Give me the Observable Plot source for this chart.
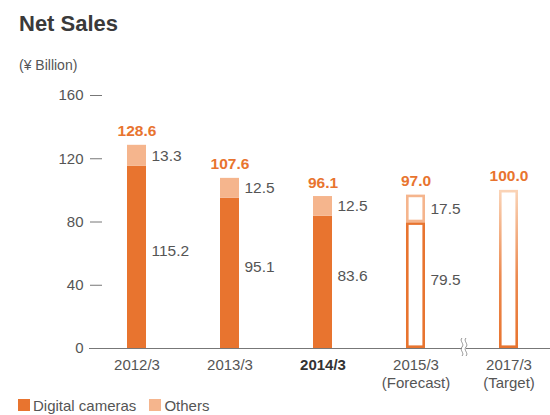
<!DOCTYPE html>
<html><head><meta charset="utf-8">
<script src="https://cdn.jsdelivr.net/npm/d3@7"></script>
<script src="https://cdn.jsdelivr.net/npm/@observablehq/plot@0.6"></script>
<style>
body{margin:0;width:550px;height:415px;overflow:hidden;position:relative;font-family:"Liberation Sans",Arial,sans-serif;background:#fff}
#title{position:absolute;left:19px;top:13px;font-size:22px;line-height:22px;font-weight:bold;color:#3a3a3a;white-space:nowrap}
#unit{position:absolute;left:19px;top:58px;font-size:14px;line-height:14px;color:#555;white-space:nowrap}
#chart{position:absolute;left:0;top:75px}
#legend{position:absolute;left:18px;top:398px;font-size:15px;line-height:15px;color:#555;white-space:nowrap}
#legend span.sw{display:inline-block;width:12px;height:12px;vertical-align:top;margin-top:1px;margin-right:3px}
#legend span.item{margin-right:13px}
</style></head><body>
<div id="title">Net Sales</div>
<div id="unit">(¥ Billion)</div>
<div id="chart"></div>
<div id="legend"></div>
<script>
const categories = ["2012/3", "2013/3", "2014/3", "2015/3", "2017/3"];
const subLabels = ["", "", "", "(Forecast)", "(Target)"];
const kinds = ["actual", "actual", "actual", "forecast", "target"];
const digitalCameras = [115.2, 95.1, 83.6, 79.5, null];
const others = [13.3, 12.5, 12.5, 17.5, null];
const totals = [128.6, 107.6, 96.1, 97.0, 100.0];
const yTicks = [0, 40, 80, 120, 160];
const boldCategory = "2014/3";
const seriesNames = ["Digital cameras", "Others"];

const DARK = "#E8742F";
const LIGHT = "#F5B58D";
const TEXT = "#555555";

const rows = categories.map((c, i) => ({
  cat: c, sub: subLabels[i], kind: kinds[i],
  digital: digitalCameras[i], others: others[i], total: totals[i],
  label: subLabels[i] ? c + "\n" + subLabels[i] : c
}));
const actual = rows.filter(d => d.kind === "actual");
const forecast = rows.filter(d => d.kind === "forecast");
const target = rows.filter(d => d.kind === "target");
const stacked = rows.filter(d => d.digital != null);

function defsMark(index, scales, values, dims) {
  const svg = d3.create("svg:g");
  const g = svg.append("defs").append("linearGradient")
    .attr("id", "tgtGrad").attr("x1", 0).attr("y1", 0).attr("x2", 0).attr("y2", 1);
  g.append("stop").attr("offset", "0%").attr("stop-color", "#FAD3B6");
  g.append("stop").attr("offset", "55%").attr("stop-color", "#EC8A50");
  g.append("stop").attr("offset", "100%").attr("stop-color", DARK);
  return svg.node();
}

function breakMark(index, scales, values, dims) {
  const x = scales.x, y = scales.y;
  const bw = x.bandwidth ? x.bandwidth() : 18.6;
  const gx = (x("2015/3") + bw + x("2017/3")) / 2 + 2;
  const gy = y(0);
  const g = d3.create("svg:g");
  g.append("rect").attr("x", gx - 2).attr("y", gy - 2).attr("width", 4).attr("height", 4).attr("fill", "#fff");
  [-2, 2].forEach(o => {
    g.append("path")
      .attr("d", `M${gx + o},${gy - 10} c-3,3 3,6 0,9 c-3,3 3,6 0,9`)
      .attr("fill", "none").attr("stroke", "#888").attr("stroke-width", 0.9);
  });
  return g.node();
}

const chart = Plot.plot({
  width: 550,
  height: 320,
  marginLeft: 89,
  marginRight: 0,
  marginTop: 20,
  marginBottom: 47,
  style: {fontFamily: '"Liberation Sans", Arial, sans-serif', fontSize: "15px", color: TEXT, background: "#fff"},
  x: {type: "band", domain: categories, range: [90, 555], paddingInner: 0.8, paddingOuter: 0.4, axis: null},
  y: {domain: [0, 160], range: [273, 20], axis: null},
  marks: [
    defsMark,
    Plot.ruleY([0], {stroke: "#777", strokeWidth: 1}),
    Plot.axisY({ticks: yTicks, tickSize: 12, tickPadding: 7, dx: 13, stroke: "#777", fill: TEXT, fontSize: 15, label: null, tickFormat: d => d}),
    Plot.rectY(actual, {x: "cat", y1: 0, y2: "digital", fill: DARK}),
    Plot.rectY(actual, {x: "cat", y1: "digital", y2: d => d.digital + d.others, fill: LIGHT}),
    Plot.rectY(forecast, {x: "cat", y1: 0, y2: "digital", fill: "#fff", stroke: DARK, strokeWidth: 2.6, inset: 1.3}),
    Plot.rectY(forecast, {x: "cat", y1: "digital", y2: "total", fill: "#fff", stroke: LIGHT, strokeWidth: 2.6, inset: 1.3}),
    Plot.rectY(target, {x: "cat", y1: 0, y2: "total", fill: "#fff", stroke: "url(#tgtGrad)", strokeWidth: 2.6, inset: 1.3}),
    Plot.text(rows, {x: "cat", y: "total", text: d => d.total.toFixed(1), dy: -14, fill: DARK, fontWeight: "bold", fontSize: 15.5, lineAnchor: "middle"}),
    Plot.text(stacked, {x: "cat", y: d => d.digital + d.others / 2, text: d => d.others.toFixed(1), dx: 14.5, textAnchor: "start", lineAnchor: "middle", fill: TEXT, fontSize: 15.5}),
    Plot.text(stacked, {x: "cat", y: d => d.digital / 2, text: d => d.digital.toFixed(1), dx: 14.5, dy: -6, textAnchor: "start", lineAnchor: "middle", fill: TEXT, fontSize: 15.5}),
    Plot.text(rows.filter(d => d.cat !== boldCategory), {x: "cat", y: 0, text: "label", dy: 9, lineAnchor: "top", lineHeight: 1.2, fill: TEXT, fontSize: 15}),
    Plot.text(rows.filter(d => d.cat === boldCategory), {x: "cat", y: 0, text: "label", dy: 9, lineAnchor: "top", lineHeight: 1.2, fill: "#333", fontWeight: "bold", fontSize: 15}),
    breakMark
  ]
});
document.getElementById("chart").appendChild(chart);

const legend = document.getElementById("legend");
[DARK, LIGHT].forEach((c, i) => {
  const item = document.createElement("span");
  item.className = "item";
  item.innerHTML = `<span class="sw" style="background:${c}"></span>${seriesNames[i]}`;
  legend.appendChild(item);
});
</script>
</body></html>
